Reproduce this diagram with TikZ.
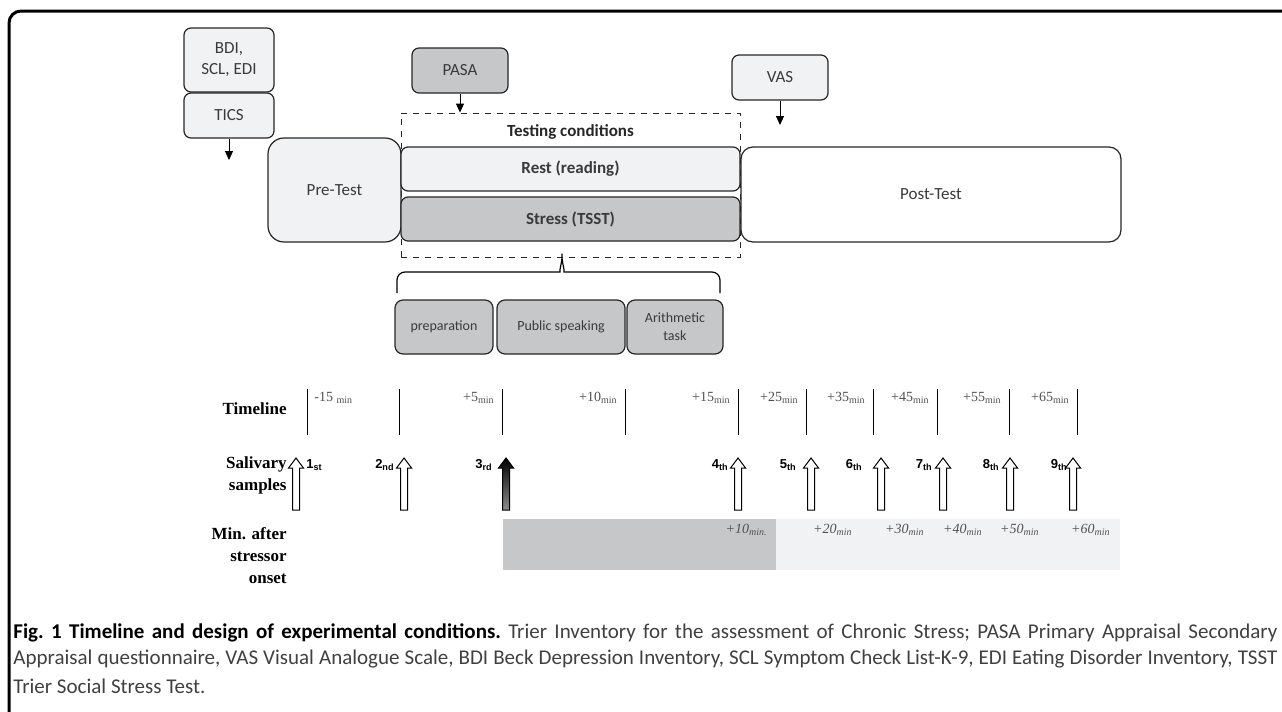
\documentclass[tikz,border=0pt]{standalone}
\usepackage{fontspec}
\setmainfont{Liberation Serif}
\newfontfamily\boxfont{Carlito}
\newfontfamily\ordfont{Liberation Sans}
\usepackage{xcolor}
\usetikzlibrary{positioning}
\usetikzlibrary{arrows.meta}

\definecolor{lightbox}{HTML}{F1F2F4}
\definecolor{darkbox}{HTML}{C6C7C9}
\definecolor{boxtext}{HTML}{3A3A3A}
\definecolor{labgray}{HTML}{505050}

\tikzset{
  infobox/.style={draw=black!85, line width=0.6pt, rounded corners=3.5pt, fill=lightbox,
    text=boxtext, font=\boxfont\fontsize{8.5}{10.5}\selectfont, inner sep=0pt, align=center},
  greybox/.style={infobox, fill=darkbox},
  phasebox/.style={infobox, rounded corners=4pt, font=\boxfont\fontsize{7}{9}\selectfont, fill=darkbox},
  rowhead/.style={font=\bfseries\fontsize{8.5}{11}\selectfont, align=right, anchor=east, inner sep=0pt},
  timelab/.style={font=\fontsize{7}{8}\selectfont, text=labgray, inner sep=0pt},
  onsetlab/.style={font=\itshape\fontsize{7}{8}\selectfont, text=labgray, inner sep=0pt, anchor=east},
  ordlab/.style={font=\ordfont\bfseries\fontsize{6.5}{8}\selectfont, inner sep=0pt},
  caption/.style={font=\boxfont\fontsize{10.5}{12}\selectfont\frenchspacing, text=black!75, inner sep=0pt, anchor=west},
  samplearrow/.pic={\path[pic actions] (-3.5,0) -- (-3.5,-42) -- (-7.5,-42) -- (0,-52)
    -- (7.5,-42) -- (3.5,-42) -- (3.5,0) -- cycle;},
  tip/.style={-{Triangle[width=4pt,length=4.5pt]}, line width=0.5pt}
}

\begin{document}
\begin{tikzpicture}[x=0.5pt, y=-0.5pt]
  \useasboundingbox (0,0) rectangle (1282,712);

  % Frame
  \draw[line width=1.5pt, rounded corners=6pt] (1300,11) -- (9,11) -- (9,730);

  % Questionnaires
  \node[infobox, minimum width=45pt, minimum height=32pt] (bdi) at (229,60) {BDI,\\SCL, EDI};
  \node[infobox, minimum width=45pt, minimum height=22.5pt] (tics) at (229,115.5) {TICS};
  \coordinate (ticsend) at (229,160);
  \draw[tip] (tics) -- (ticsend);

  \node[greybox, minimum width=48pt, minimum height=22.5pt] (pasa) at (460,70.5) {PASA};
  \node[infobox, minimum width=48pt, minimum height=22.5pt] (vas) at (780,77.5) {VAS};
  \coordinate (vasend) at (780,125);
  \draw[tip] (vas) -- (vasend);

  % Sessions
  \node[draw=black!85, dashed, line width=0.45pt, minimum width=169.5pt, minimum height=72pt,
    inner sep=0pt] (conds) at (570.5,185) {};
  \node[font=\boxfont\bfseries\fontsize{8.5}{10}\selectfont, text=black!85, inner sep=0pt]
    (condlab) at (570.5,132) {Testing conditions};
  \draw[tip] (pasa) -- (pasa.south |- conds.north);

  \node[infobox, rounded corners=8pt, minimum width=66.5pt, minimum height=52pt] (pre) at (334.5,190) {Pre-Test};
  \node[infobox, font=\boxfont\bfseries\fontsize{8.5}{10}\selectfont, minimum width=169.5pt,
    minimum height=22pt] (rest) at (570.5,169) {Rest (reading)};
  \node[greybox, font=\boxfont\bfseries\fontsize{8.5}{10}\selectfont, minimum width=169.5pt,
    minimum height=22pt] (stress) at (570.5,219) {Stress (TSST)};
  \node[infobox, fill=white, rounded corners=6pt, minimum width=190pt, minimum height=47.5pt] (post) at (931,194.5) {Post-Test};

  % Brace and TSST phases
  \draw[line width=0.6pt, rounded corners=4pt] (397,293) -- (397,272) -- (552,272)
    .. controls (559,272) and (562,262) .. (562,249)
    .. controls (562,262) and (565,272) .. (572,272) -- (720,272) -- (720,293);
  \node[phasebox, minimum width=49pt, minimum height=27pt] (prep) at (444,327) {preparation};
  \node[phasebox, minimum width=64pt, minimum height=27pt] (speak) at (561,327) {Public speaking};
  \node[phasebox, minimum width=48pt, minimum height=27pt] (arith) at (675,327) {Arithmetic\\task};

  % Timeline
  \node[rowhead] (timeline) at (287,409) {Timeline};
  \foreach \x in {307,399,502,625,738,806,873,937,1009,1077}
    \draw[line width=0.5pt] (\x,389) -- (\x,435);
  \node[timelab, anchor=west] (tm15) at (314,398) {-15 \textsubscript{min}};
  \foreach \x/\t in {502/5,625/10,738/15,806/25,873/35,937/45,1009/55,1077/65}
    \node[timelab, anchor=east] (t\t) at (\x-7,398) {+\t\textsubscript{min}};

  % Salivary samples
  \node[rowhead] (saliva) at (287,475) {Salivary\\samples};
  \foreach \x in {296,404,738,811,881,943,1010,1073}
    \pic[draw=black, line width=0.5pt, fill=white] at (\x,510) {samplearrow};
  \pic[draw=black, line width=0.5pt, top color=black, bottom color=black!45] at (506,510) {samplearrow};
  \node[ordlab, anchor=west] (s1) at (306,465) {1\textsubscript{st}};
  \foreach \x/\n/\s in {395/2/nd,493/3/rd,729/4/th,797/5/th,863/6/th,933/7/th,1000/8/th,1068/9/th}
    \node[ordlab, anchor=east] (s\n) at (\x,465) {\n\textsubscript{\s}};

  % Minutes after stressor onset
  \node[rowhead, text depth=0pt] (onset) at (287,556) {Min. after\\stressor\\onset};
  \node[fill=darkbox, minimum width=136.5pt, minimum height=25.5pt, inner sep=0pt] (early) at (639.5,544.5) {};
  \node[fill=lightbox, minimum width=172pt, minimum height=25.5pt, inner sep=0pt] (late) at (948,544.5) {};
  \node[onsetlab] (m10) at (768,530) {+10\textsubscript{min.}};
  \foreach \x/\t in {853/20,925/30,983/40,1040/50,1111/60}
    \node[onsetlab] (m\t) at (\x,530) {+\t\textsubscript{min}};

  % Caption
  \node[caption] (cap1) at (13,633) {\makebox[632pt][s]{\textbf{\color{black}Fig. 1 Timeline and design of experimental conditions.} Trier Inventory for the assessment of Chronic Stress; PASA Primary Appraisal Secondary}};
  \node[caption] (cap2) at (13,659) {\makebox[632pt][s]{Appraisal questionnaire, VAS Visual Analogue Scale, BDI Beck Depression Inventory, SCL Symptom Check List-K-9, EDI Eating Disorder Inventory, TSST}};
  \node[caption] (cap3) at (13,686) {Trier Social Stress Test.};
\end{tikzpicture}
\end{document}
